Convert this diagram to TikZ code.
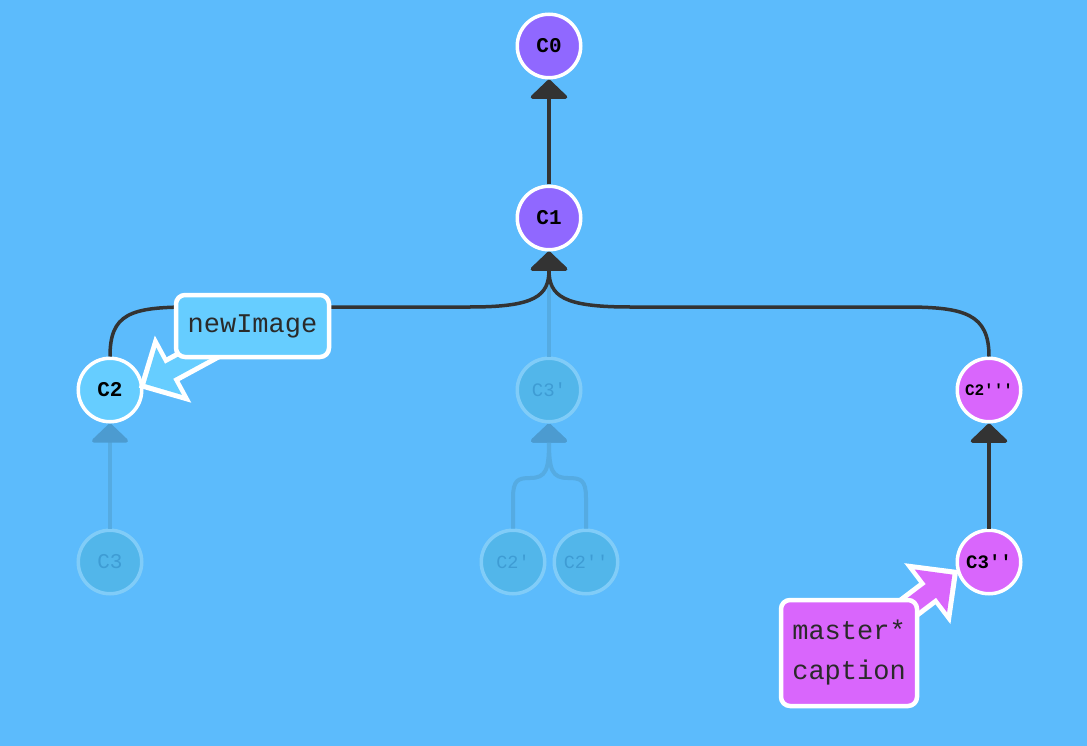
\documentclass[tikz,border=0pt]{standalone}
\usepackage{fontspec}
\newfontfamily\cmono{Liberation Mono}
\usetikzlibrary{arrows.meta}
\definecolor{bgblue}{HTML}{5CBBFC}
\definecolor{cpurple}{HTML}{9068FF}
\definecolor{ccyan}{HTML}{66CDFF}
\definecolor{cmagenta}{HTML}{D966FC}
\definecolor{ghostfill}{HTML}{52B6EA}
\definecolor{ghostdraw}{HTML}{80CCF8}
\definecolor{ghosttext}{HTML}{3E9CD4}
\definecolor{ghostline}{HTML}{55ABE2}
\definecolor{ghosttip}{HTML}{4C9BD0}
\definecolor{edgedark}{HTML}{333333}
\definecolor{labeltext}{HTML}{2A2A2A}
\pgfdeclarelayer{front}
\pgfsetlayers{main,front}
\begin{document}
\begin{tikzpicture}[x=1pt,y=-1pt,
  commit/.style={circle, minimum size=63.5pt, inner sep=0pt, line width=3.5pt,
    draw=white, text=black, font=\cmono\bfseries\fontsize{21}{21}\selectfont},
  ghost/.style={commit, fill=ghostfill, draw=ghostdraw, text=ghosttext,
    font=\cmono\fontsize{21}{21}\selectfont},
  edge/.style={draw=edgedark, line width=3.5pt,
    -{Triangle[width=41pt,length=20pt,round]}},
  fadededge/.style={draw=ghostline, line width=4pt,
    -{Triangle[width=41pt,length=20pt,round,color=ghosttip]}},
  branchlabel/.style={rounded corners=9pt, draw=white, line width=4.5pt,
    text=labeltext, inner xsep=7pt, font=\cmono\fontsize{27}{40}\selectfont, align=center},
  blockout/.style={draw=white, line width=27pt, -{Triangle[width=74pt,length=39pt]}},
  blockin/.style={line width=17pt, -{Triangle[width=52pt,length=27pt]}},
]
% canvas
\fill[bgblue] (0,0) rectangle (1087,746);

% commits
\node[commit, fill=cpurple] (c0) at (549,46) {C0};
\node[commit, fill=cpurple] (c1) at (549,218) {C1};
\node[commit, fill=ccyan] (c2) at (110,390) {C2};
\node[ghost, font=\cmono\fontsize{19}{19}\selectfont] (c3p) at (549,390) {C3'};
\node[commit, fill=cmagenta, font=\cmono\bfseries\fontsize{16}{16}\selectfont] (c2ppp) at (989,390) {C2'''};
\node[ghost] (c3) at (110,562) {C3};
\node[ghost, font=\cmono\fontsize{18.5}{18.5}\selectfont] (c2p) at (513,562) {C2'};
\node[ghost, font=\cmono\fontsize{18.5}{18.5}\selectfont] (c2pp) at (586,562) {C2''};
\node[commit, fill=cmagenta, font=\cmono\bfseries\fontsize{19}{19}\selectfont] (c3pp) at (989,562) {C3''};

% faded parent links
\draw[fadededge] (c3p) -- (c1);
\draw[fadededge] (c3) -- (c2);
\draw[fadededge] (c2p.north) -- (513,498) .. controls (513,480) and (518,478) .. (530,478)
  .. controls (546,478) and (549,470) .. (c3p.south);
\draw[fadededge] (c2pp.north) -- (586,498) .. controls (586,480) and (581,478) .. (568,478)
  .. controls (552,478) and (549,470) .. (c3p.south);

% parent links
\draw[edge] (c1) -- (c0);
\draw[edge] (c2.north) .. controls (110,314) and (130,307) .. (190,307) -- (470,307)
  .. controls (535,307) and (549,296) .. (c1.south);
\draw[edge] (c2ppp.north) .. controls (989,314) and (965,307) .. (905,307) -- (630,307)
  .. controls (563,307) and (549,296) .. (c1.south);
\draw[edge] (c3pp) -- (c2ppp);

% branch labels
\begin{pgfonlayer}{front}
\node[branchlabel, fill=ccyan, minimum width=153pt, minimum height=62pt] (lnew) at (252.5,326) {newImage};
\node[branchlabel, fill=cmagenta, minimum width=136pt, minimum height=106pt] (lmaster) at (849,653) {master*\\caption};
\end{pgfonlayer}

% label pointers
\draw[blockout, shorten >=-5pt] (lnew.center) -- (c2.8);
\draw[blockin, draw=ccyan, fill=ccyan, shorten >=2.5pt] (lnew.center) -- (c2.8);
\draw[blockout, shorten >=-2pt] (lmaster.center) -- (c3pp.196);
\draw[blockin, draw=cmagenta, fill=cmagenta, shorten >=5.5pt] (lmaster.center) -- (c3pp.196);
\end{tikzpicture}
\end{document}
